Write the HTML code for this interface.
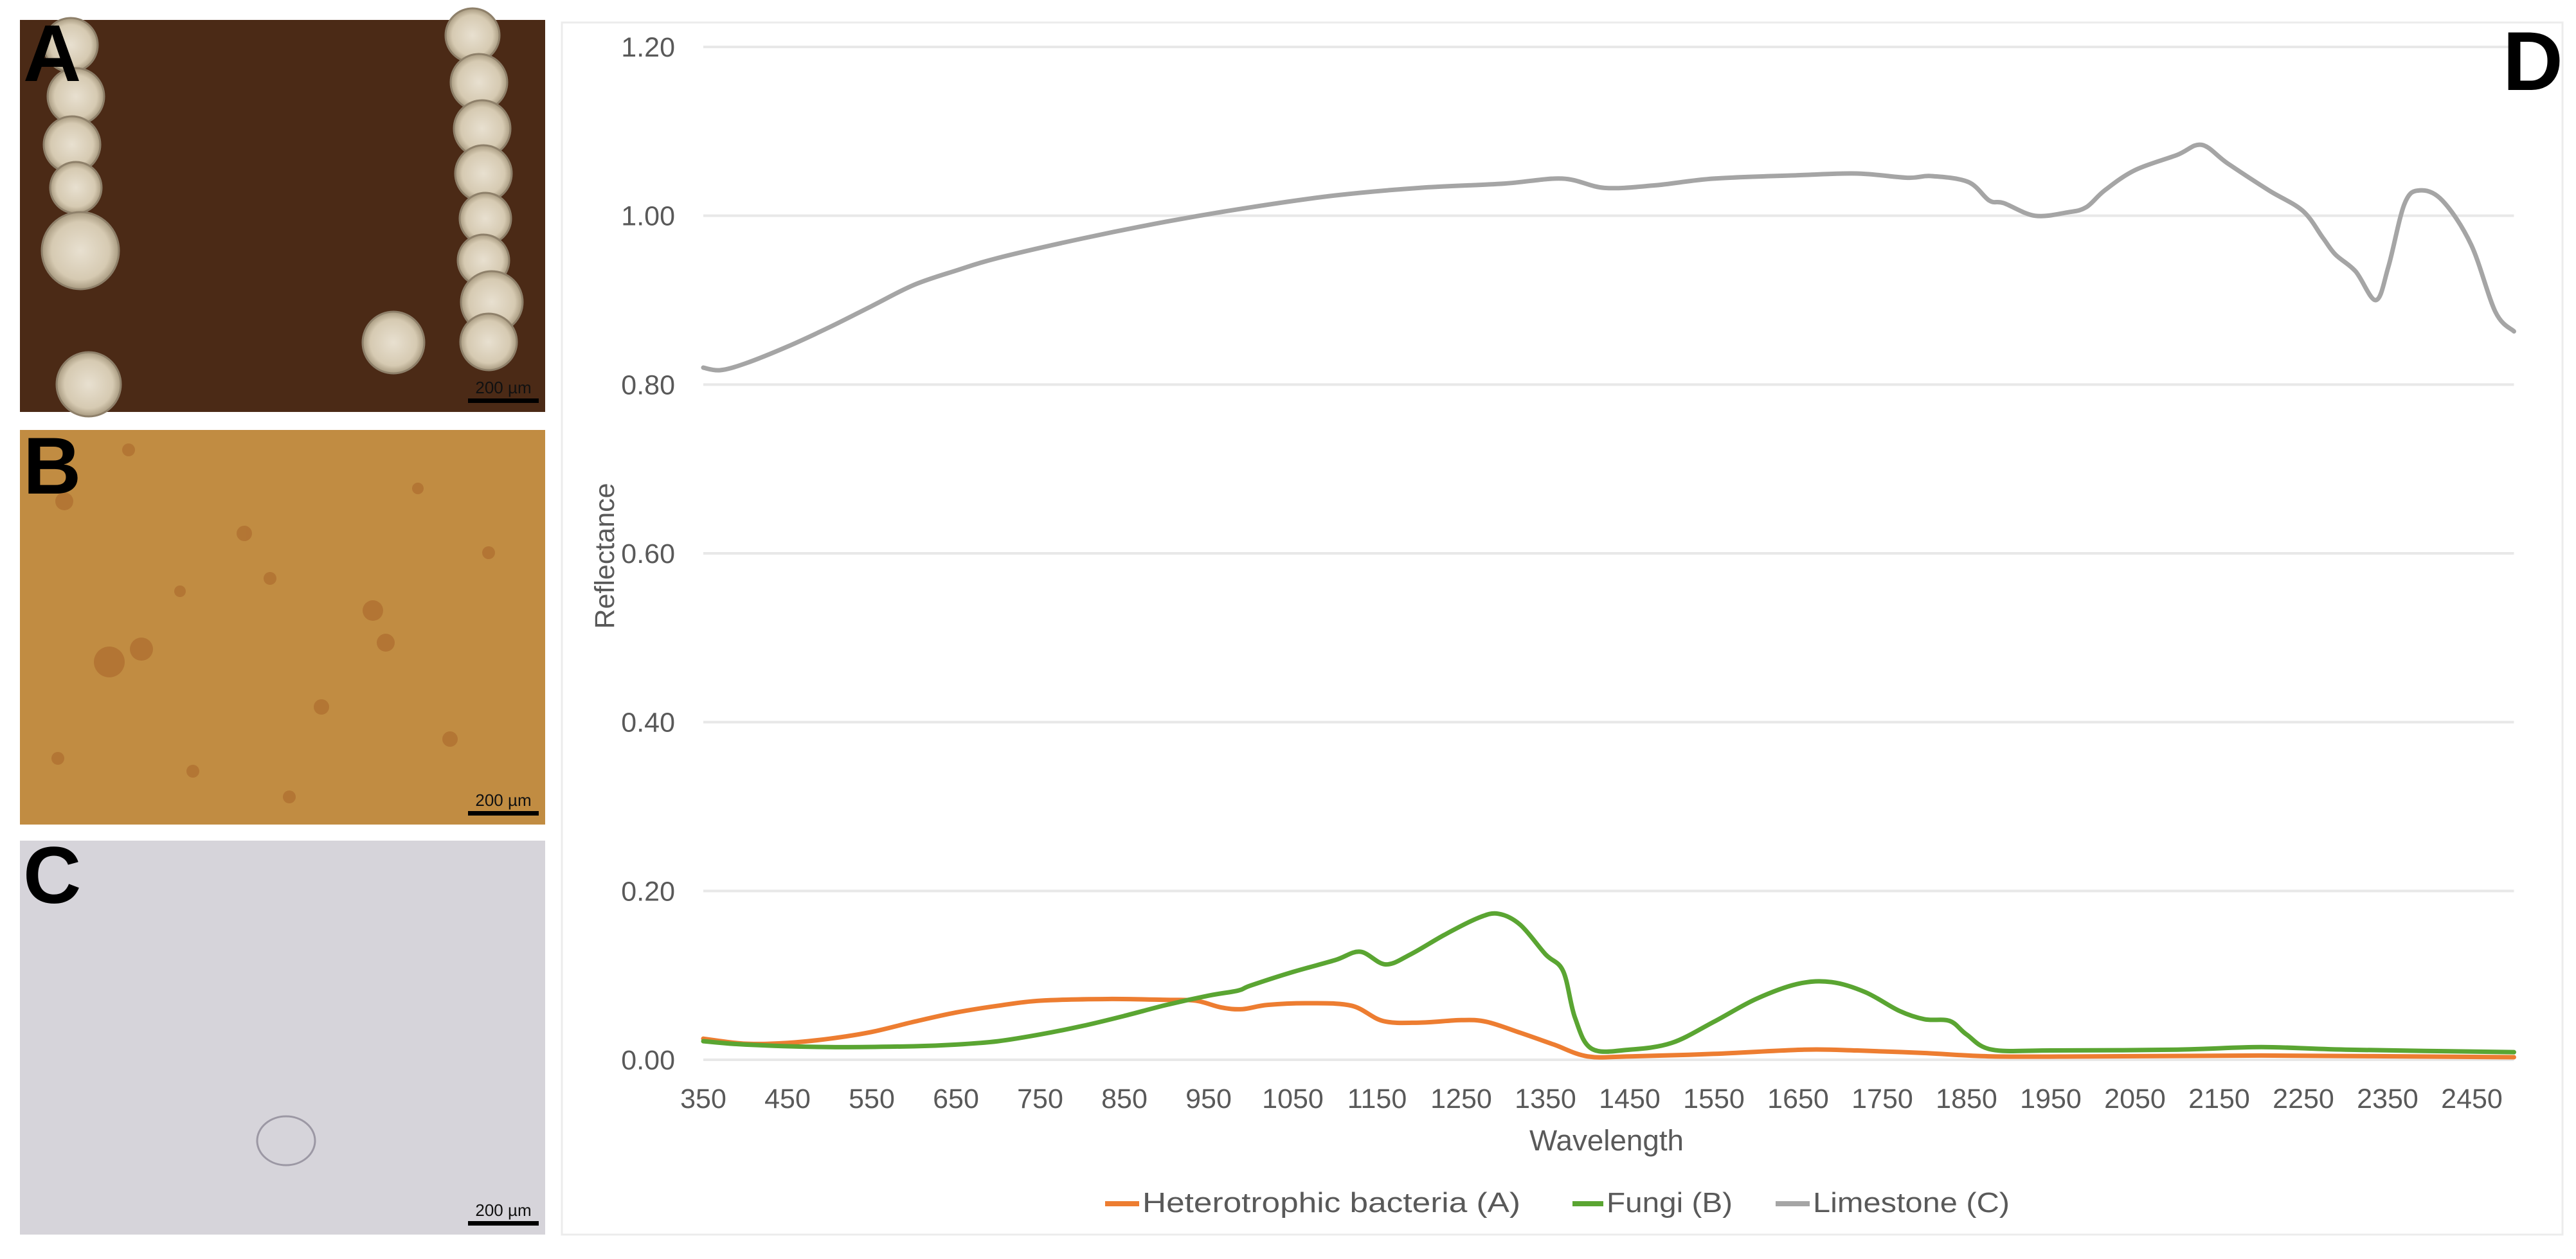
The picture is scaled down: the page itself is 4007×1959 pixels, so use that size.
<!DOCTYPE html>
<html><head><meta charset="utf-8"><style>
html,body{margin:0;padding:0;background:#fff;}
svg{display:block;}
text{font-family:"Liberation Sans",sans-serif;}
</style></head><body>
<svg id="s" width="4007" height="1959" viewBox="0 0 4007 1959" xmlns="http://www.w3.org/2000/svg">
<defs>
<radialGradient id="bead" cx="50%" cy="50%" r="50%"><stop offset="0" stop-color="#e8e0d0"/><stop offset="0.75" stop-color="#d6cab2"/><stop offset="1" stop-color="#a89a80"/></radialGradient>
</defs>
<!-- Panel A -->
<rect x="31" y="31" width="817" height="610" fill="#4b2a16"/>
<g fill="url(#bead)" stroke="#8e806a" stroke-width="3">
<circle cx="110" cy="70" r="42"/><circle cx="118" cy="150" r="44"/><circle cx="112" cy="225" r="44"/><circle cx="118" cy="292" r="40"/>
<circle cx="125" cy="390" r="60"/><circle cx="138" cy="598" r="50"/><circle cx="612" cy="533" r="48"/>
<circle cx="735" cy="55" r="42"/><circle cx="745" cy="128" r="44"/><circle cx="750" cy="200" r="44"/><circle cx="752" cy="270" r="44"/>
<circle cx="755" cy="340" r="40"/><circle cx="752" cy="405" r="40"/><circle cx="765" cy="470" r="48"/><circle cx="760" cy="532" r="44"/>
</g>
<text x="36" y="126" font-size="125" font-weight="bold" fill="#000">A</text>
<rect x="728" y="620" width="110" height="7" fill="#000"/>
<text x="783" y="612" font-size="26" text-anchor="middle" fill="#111">200 µm</text>
<!-- Panel B -->
<rect x="31" y="669" width="817" height="614" fill="#c18c42"/>
<g fill="#a8642a" opacity="0.55">
<circle cx="100" cy="780" r="14"/><circle cx="200" cy="700" r="10"/><circle cx="170" cy="1030" r="24"/><circle cx="220" cy="1010" r="18"/>
<circle cx="380" cy="830" r="12"/><circle cx="420" cy="900" r="10"/><circle cx="580" cy="950" r="16"/><circle cx="600" cy="1000" r="14"/>
<circle cx="500" cy="1100" r="12"/><circle cx="300" cy="1200" r="10"/><circle cx="700" cy="1150" r="12"/><circle cx="760" cy="860" r="10"/>
<circle cx="90" cy="1180" r="10"/><circle cx="650" cy="760" r="9"/><circle cx="450" cy="1240" r="10"/><circle cx="280" cy="920" r="9"/>
</g>
<text x="36" y="768" font-size="125" font-weight="bold" fill="#000">B</text>
<rect x="728" y="1262" width="110" height="7" fill="#000"/>
<text x="783" y="1254" font-size="26" text-anchor="middle" fill="#111">200 µm</text>
<!-- Panel C -->
<rect x="31" y="1308" width="817" height="613" fill="#d6d4da"/>
<ellipse cx="445" cy="1775" rx="45" ry="38" fill="none" stroke="#9c98a4" stroke-width="3"/>
<text x="36" y="1405" font-size="125" font-weight="bold" fill="#000">C</text>
<rect x="728" y="1900" width="110" height="7" fill="#000"/>
<text x="783" y="1892" font-size="26" text-anchor="middle" fill="#111">200 µm</text>
<!-- chart frame -->
<rect x="874" y="35" width="3112" height="1886" fill="#fff" stroke="#ececec" stroke-width="3"/>
<g id="grid" stroke="#e8e8e8" stroke-width="4"></g>
<g id="ylab" font-size="43" fill="#595959" text-anchor="end"></g>
<g id="xlab" font-size="43" fill="#595959" text-anchor="middle"></g>
<text transform="translate(955,865) rotate(-90)" font-size="43" fill="#595959" text-anchor="middle">Reflectance</text>
<text x="2499" y="1790" font-size="45" fill="#595959" text-anchor="middle" textLength="240" lengthAdjust="spacingAndGlyphs">Wavelength</text>
<g id="lines" fill="none" stroke-width="7" stroke-linejoin="round" stroke-linecap="round"></g>
<rect x="1719" y="1869" width="53" height="8" fill="#ed7d31"/>
<text x="1777" y="1886" font-size="44" fill="#595959" textLength="588" lengthAdjust="spacingAndGlyphs">Heterotrophic bacteria (A)</text>
<rect x="2446" y="1869" width="48" height="8" fill="#5aa532"/>
<text x="2499" y="1886" font-size="44" fill="#595959" textLength="196" lengthAdjust="spacingAndGlyphs">Fungi (B)</text>
<rect x="2762" y="1869" width="53" height="8" fill="#a5a5a5"/>
<text x="2820" y="1886" font-size="44" fill="#595959" textLength="306" lengthAdjust="spacingAndGlyphs">Limestone (C)</text>
<text x="3893" y="140" font-size="130" font-weight="bold" fill="#000">D</text>
</svg>
<script>
var NS="http://www.w3.org/2000/svg";
function X(w){return 1094+(w-350)*1.31;}
function Y(r){return 1649-r*(1649-73)/1.2;}
var g=document.getElementById('grid'),yl=document.getElementById('ylab'),xl=document.getElementById('xlab');
for(var i=0;i<=6;i++){var r=i*0.2,y=Y(r);
 var l=document.createElementNS(NS,'line');l.setAttribute('x1',1094);l.setAttribute('x2',X(2500));l.setAttribute('y1',y);l.setAttribute('y2',y);g.appendChild(l);
 var t=document.createElementNS(NS,'text');t.setAttribute('x',1050);t.setAttribute('y',y+15);t.textContent=r.toFixed(2);yl.appendChild(t);}
for(var w=350;w<=2450;w+=100){var t=document.createElementNS(NS,'text');t.setAttribute('x',X(w));t.setAttribute('y',1724);t.textContent=w;xl.appendChild(t);}
function path(d){var p=d.map(function(a){return[X(a[0]),Y(a[1])];});var s='M'+p[0][0]+','+p[0][1];
 for(var i=0;i<p.length-1;i++){var p0=p[i-1]||p[i],p1=p[i],p2=p[i+1],p3=p[i+2]||p2;
 s+=' C'+(p1[0]+(p2[0]-p0[0])/6)+','+(p1[1]+(p2[1]-p0[1])/6)+' '+(p2[0]-(p3[0]-p1[0])/6)+','+(p2[1]-(p3[1]-p1[1])/6)+' '+p2[0]+','+p2[1];}
 return s;}
var lime=[[350,.82],[370,.817],[400,.825],[450,.845],[500,.868],[550,.893],[600,.918],[650,.935],[700,.95],[800,.973],[900,.993],[1000,1.01],[1100,1.024],[1200,1.033],[1300,1.038],[1370,1.044],[1420,1.033],[1480,1.036],[1550,1.044],[1650,1.048],[1720,1.05],[1780,1.045],[1808,1.047],[1852,1.04],[1877,1.018],[1894,1.015],[1931,1.0],[1970,1.004],[1992,1.01],[2014,1.03],[2050,1.054],[2100,1.072],[2129,1.084],[2160,1.062],[2209,1.03],[2249,1.006],[2273,.974],[2288,.954],[2312,.934],[2336,.9],[2351,.94],[2370,1.014],[2388,1.03],[2415,1.018],[2449,.966],[2478,.886],[2500,.863]];
var fungi=[[350,.022],[400,.018],[500,.015],[600,.016],[650,.018],[700,.022],[750,.03],[800,.04],[850,.052],[900,.065],[950,.076],[985,.082],[1000,.088],[1050,.104],[1100,.118],[1130,.128],[1160,.113],[1190,.125],[1230,.148],[1270,.168],[1294,.173],[1320,.16],[1350,.125],[1371,.105],[1385,.05],[1405,.013],[1450,.012],[1500,.02],[1550,.045],[1600,.072],[1650,.09],[1690,.092],[1730,.08],[1770,.058],[1800,.048],[1830,.046],[1850,.03],[1880,.012],[1950,.011],[2100,.012],[2200,.015],[2300,.012],[2500,.009]];
var bact=[[350,.025],[400,.019],[450,.02],[500,.025],[550,.033],[600,.045],[650,.056],[700,.064],[750,.07],[830,.072],[900,.071],[935,.07],[965,.062],[990,.06],[1020,.065],[1070,.067],[1120,.064],[1157,.046],[1200,.044],[1250,.047],[1280,.045],[1320,.032],[1360,.018],[1400,.004],[1450,.004],[1550,.007],[1657,.012],[1720,.011],[1800,.008],[1880,.004],[2000,.004],[2200,.005],[2500,.003]];
var L=document.getElementById('lines');
[[lime,'#a5a5a5'],[bact,'#ed7d31'],[fungi,'#5aa532']].forEach(function(s){var p=document.createElementNS(NS,'path');p.setAttribute('d',path(s[0]));p.setAttribute('stroke',s[1]);L.appendChild(p);});
</script>
</body></html>
